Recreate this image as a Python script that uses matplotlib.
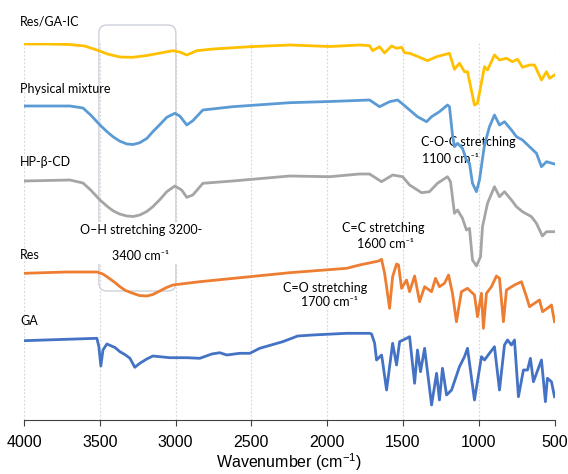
# FTIR spectra of Res, GA, HP-b-CD, physical mixture and the inclusion complex
# stacked with offsets (arbitrary transmittance units)

import matplotlib.pyplot as plt
from matplotlib.patches import FancyBboxPatch

# Res/GA-IC
wn_ic = [4000, 3842, 3700, 3600, 3519, 3450, 3367, 3282, 3189, 3100, 3018, 2972, 2926, 2860,
         2754, 2510, 2247, 1983, 1786, 1720, 1700, 1654, 1621, 1575, 1542, 1509, 1489, 1456,
         1410, 1338, 1278, 1193, 1160, 1127, 1094, 1074, 1028, 1008, 962, 942, 896, 863, 817,
         777, 744, 711, 665, 632, 586, 553, 533, 500]
t_ic = [376, 376, 375.5, 374, 370, 366, 363, 362.7, 364.5, 367, 369.3, 368, 365, 369.3,
        371, 373.3, 375, 373.5, 375, 374.3, 369.3, 373.3, 367, 374, 371.7, 372.7, 367.3, 366.7,
        364, 359.3, 363.3, 366.7, 350.7, 356.7, 348.3, 348.3, 315, 316.7, 353.3, 350, 365, 360, 361.7,
        358.3, 360.7, 352.7, 355, 355, 340, 348.3, 341.7, 345]

# physical mixture
wn_pm = [4000, 3697, 3611, 3560, 3499, 3450, 3413, 3370, 3321, 3280, 3236, 3190, 3150, 3100,
         3058, 3005, 2972, 2926, 2886, 2820, 2623, 2247, 1983, 1720, 1654, 1588, 1535, 1502,
         1456, 1404, 1344, 1311, 1259, 1206, 1193, 1173, 1160, 1140, 1107, 1081, 1061, 1041,
         1015, 995, 962, 929, 896, 863, 830, 784, 751, 711, 665, 619, 586, 553, 500]
t_pm = [314, 314, 312, 305, 295, 288, 283.3, 279, 276, 275.5, 277.3, 281.5, 288.3, 296,
        302.7, 306.7, 304, 295, 299.3, 310, 313.3, 317.3, 318.5, 320, 313.3, 318.3, 320, 316,
        310, 303.3, 298.3, 303.3, 308.3, 315, 313.3, 285, 273.3, 276.7, 271.7, 260, 256.7, 236.7,
        228.3, 240, 275, 293.3, 305, 295, 298.3, 290, 283.3, 280, 273.3, 266.7, 253.3, 258.3, 256]

# HP-beta-CD
wn_cd = [4000, 3697, 3611, 3560, 3499, 3450, 3413, 3370, 3321, 3280, 3236, 3190, 3150, 3100,
         3058, 3005, 2960, 2926, 2886, 2820, 2623, 2247, 1983, 1786, 1720, 1641, 1568, 1502,
         1456, 1377, 1325, 1272, 1206, 1186, 1160, 1140, 1107, 1081, 1061, 1041, 1015, 988,
         975, 942, 896, 863, 830, 784, 751, 711, 652, 619, 580, 553, 500]
t_cd = [239, 240, 237, 230, 220, 213.5, 209.3, 206, 204, 203.5, 205, 208.5, 213.3, 221,
        228.3, 234, 230, 222.7, 225, 236.7, 239, 244, 243.3, 246, 246, 238.3, 245, 243.3,
        235, 227.3, 228.3, 236.7, 243.3, 238.3, 206.7, 210, 201.7, 190, 191.7, 160, 154, 163.3,
        193.3, 216.7, 233.3, 223.3, 228.3, 220, 213.3, 208.3, 203.3, 196.7, 184, 188.3, 188.3]

# Res
wn_res = [4000, 3717, 3519, 3480, 3453, 3400, 3367, 3330, 3282, 3240, 3189, 3150, 3104, 3060,
          3018, 2840, 2510, 2247, 1871, 1786, 1660, 1641, 1621, 1608, 1588, 1568, 1542, 1529,
          1509, 1476, 1456, 1423, 1390, 1357, 1311, 1285, 1259, 1226, 1199, 1173, 1147, 1114,
          1074, 1028, 1008, 982, 969, 949, 916, 883, 863, 837, 817, 764, 718, 685, 665, 632,
          599, 579, 547, 520, 500]
t_res = [146.7, 148, 148, 146, 143.3, 137.5, 133.3, 129.5, 126.7, 124.5, 124, 125.5, 129, 132.5,
         135, 138.3, 143.3, 147.3, 151.7, 155, 159, 160.7, 146.7, 133.3, 111.7, 143.3, 156, 155,
         131.7, 140, 128.3, 144, 118.3, 133.3, 128.3, 141.7, 133.3, 136.7, 145, 126.7, 98.3, 128.3,
         131.7, 125, 103.3, 126.7, 91.7, 126.7, 133.3, 144, 141.7, 98.3, 130, 135, 138.3, 123.3, 113.3, 116.7,
         120, 108.3, 111.7, 115, 98.3]

# GA
wn_ga = [4000, 3519, 3506, 3493, 3479, 3453, 3400, 3367, 3330, 3301, 3269, 3236, 3190, 3150,
         3038, 2926, 2840, 2761, 2708, 2662, 2577, 2510, 2445, 2293, 2194, 2096, 1871, 1720,
         1707, 1687, 1674, 1641, 1634, 1608, 1568, 1542, 1522, 1476, 1456, 1423, 1404, 1384,
         1357, 1311, 1278, 1259, 1239, 1212, 1179, 1127, 1094, 1074, 1028, 982, 962, 929, 896,
         863, 830, 810, 784, 764, 738, 705, 678, 659, 639, 586, 560, 547, 520, 500]
t_ga = [79.3, 81.7, 73.3, 54, 70, 76, 72.5, 68.3, 65, 61.7, 52.7, 56.7, 61, 64,
        62.3, 62.3, 61.7, 66, 67.3, 65, 66.7, 66.7, 71.7, 78.3, 84, 85, 86.7, 86.7,
        86, 77, 60, 65, 58.3, 30, 76.7, 55, 78.3, 81.7, 83.3, 36.7, 70, 48.3,
        71.7, 15, 46.7, 20, 51.7, 25, 30, 53.3, 63.3, 71.7, 20, 63.3, 60, 66.7, 73.3,
        30, 75, 80, 75, 80, 23.3, 50, 50, 61.7, 38.3, 60, 18.3, 41.7, 38.3, 23.3]

xticks = [4000, 3500, 3000, 2500, 2000, 1500, 1000, 500]

note_font = ["Lato", "DejaVu Sans"]
tick_font = "Liberation Sans"
plt.rcParams["mathtext.fontset"] = "custom"
plt.rcParams["mathtext.rm"] = tick_font
plt.rcParams["mathtext.it"] = tick_font

fig = plt.figure(figsize=(5.68, 4.74), dpi=100)
ax = fig.add_axes([24 / 568, 1 - 420 / 474, 530.5 / 568, 377 / 474])

ax.plot(wn_ic, t_ic, color="#FFC000", lw=2, zorder=3)
ax.plot(wn_pm, t_pm, color="#5B9BD5", lw=2, zorder=3)
ax.plot(wn_cd, t_cd, color="#A5A5A5", lw=2, zorder=3)
ax.plot(wn_res, t_res, color="#ED7D31", lw=2, zorder=3)
ax.plot(wn_ga, t_ga, color="#4472C4", lw=2, zorder=3)

ax.set_xlim(4000, 500)
ax.set_ylim(0, 377)
ax.set_xticks(xticks)
ax.set_yticks([])
ax.grid(axis="x", color="#D9D9D9", linestyle=(0, (1.5, 1.5)), lw=0.9)
ax.set_axisbelow(True)
for side in ["top", "left", "right"]:
    ax.spines[side].set_visible(False)
ax.spines["bottom"].set_color("#404040")
ax.tick_params(axis="x", direction="out", length=4, color="#404040", pad=7,
               labelsize=11.5)
for lab in ax.get_xticklabels():
    lab.set_family(tick_font)
ax.set_xlabel("Wavenumber (cm$^{-1}$)", family=tick_font, fontsize=11.5, labelpad=1)

# rounded box around the O-H band
box = FancyBboxPatch((2998, 129), 508, 266,
                     boxstyle="round,pad=0,rounding_size=53",
                     mutation_aspect=8 / 53, fill=False, ec="#CDD0DA", lw=1,
                     clip_on=False, zorder=1)
ax.add_patch(box)

# trace names
for y, name in [(398, "Res/GA-IC"), (331, "Physical mixture"), (258, "HP-β-CD"),
                (165, "Res"), (99, "GA")]:
    ax.text(4026, y, name, ha="left", va="center", family=note_font, fontsize=9)

# band annotations
ax.text(3229, 177, "O–H stretching 3200-\n\n3400 cm⁻¹", ha="center", va="center",
        family=note_font, fontsize=9, linespacing=1.05, zorder=2,
        bbox=dict(fc="white", ec="none", pad=2))
ax.text(1384, 278.3, "C-O-C stretching", ha="left", va="center", family=note_font,
        fontsize=9, zorder=2)
ax.text(1371, 260.7, "1100 cm⁻¹", ha="left", va="center", family=note_font,
        fontsize=9, zorder=2)
ax.text(1627, 191.7, "C=C stretching", ha="center", va="center", family=note_font,
        fontsize=9, zorder=2)
ax.text(1617, 176, "1600 cm⁻¹", ha="center", va="center", family=note_font,
        fontsize=9, zorder=2)
ax.text(2016, 131.7, "C=O stretching", ha="center", va="center", family=note_font,
        fontsize=9, zorder=2)
ax.text(1986, 118.3, "1700 cm⁻¹", ha="center", va="center", family=note_font,
        fontsize=9, zorder=2)

fig.savefig("out.png", dpi=100)
